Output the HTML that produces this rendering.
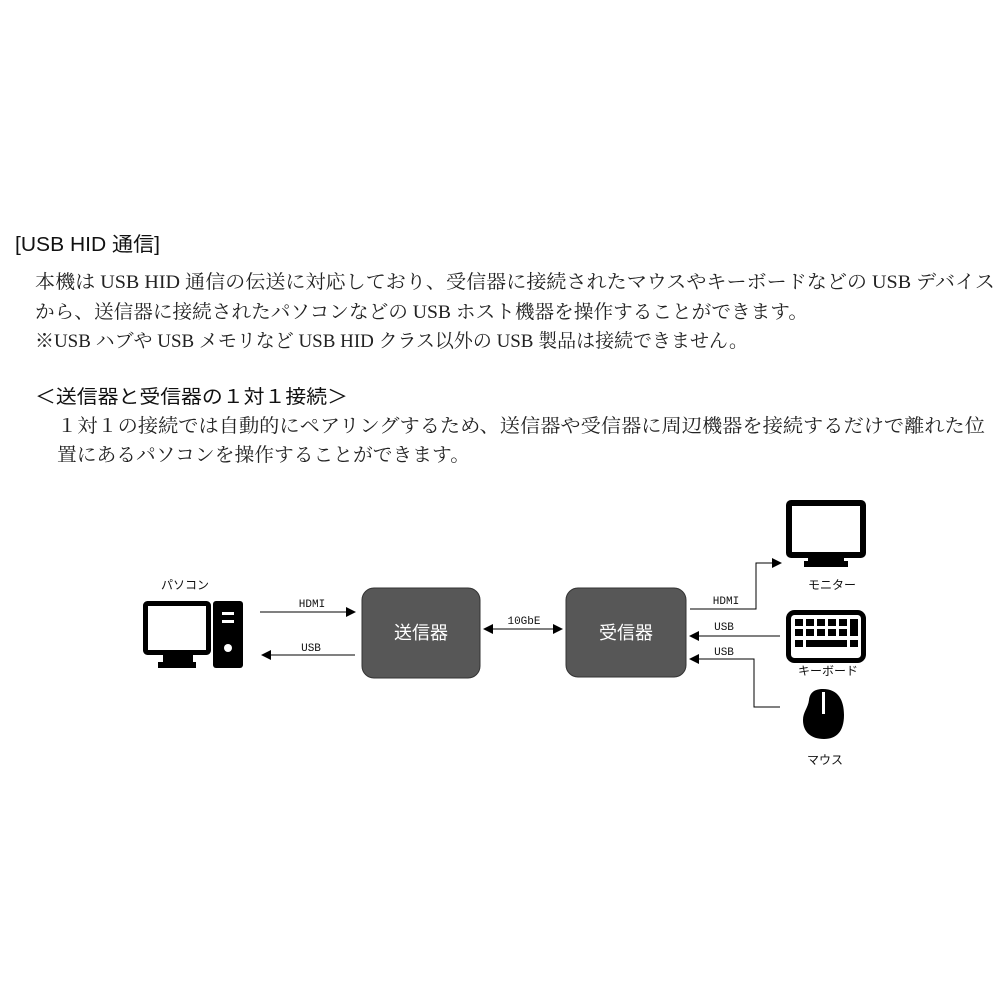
<!DOCTYPE html>
<html><head><meta charset="utf-8"><style>
html,body{margin:0;padding:0;background:#fff;}
svg{display:block;}
.s{font-family:"Liberation Serif","Noto Serif CJK SC",serif;font-size:19px;fill:#222;}
.g{font-family:"Liberation Sans","Noto Sans CJK JP",sans-serif;fill:#111;}
.m{font-family:"Liberation Mono","Noto Sans CJK JP",monospace;font-size:11px;fill:#111;}
</style></head><body>
<svg width="1000" height="1000" viewBox="0 0 1000 1000" xmlns="http://www.w3.org/2000/svg">
<defs><marker id="a" markerWidth="10" markerHeight="10" refX="9" refY="5" orient="auto" markerUnits="userSpaceOnUse"><path d="M0,0 L10,5 L0,10 z" fill="#000"/></marker>
<marker id="b" markerWidth="10" markerHeight="10" refX="1" refY="5" orient="auto" markerUnits="userSpaceOnUse"><path d="M10,0 L0,5 L10,10 z" fill="#000"/></marker></defs>
<text class="g" x="15" y="251" font-size="20" textLength="145" lengthAdjust="spacingAndGlyphs">[USB HID 通信]</text>
<text class="s" x="35" y="288" textLength="960" lengthAdjust="spacingAndGlyphs">本機は USB HID 通信の伝送に対応しており、受信器に接続されたマウスやキーボードなどの USB デバイス</text>
<text class="s" x="35" y="318" textLength="773" lengthAdjust="spacingAndGlyphs">から、送信器に接続されたパソコンなどの USB ホスト機器を操作することができます。</text>
<text class="s" x="35" y="347" textLength="713" lengthAdjust="spacingAndGlyphs">※USB ハブや USB メモリなど USB HID クラス以外の USB 製品は接続できません。</text>
<text class="g" x="35" y="403" font-size="19" textLength="313" lengthAdjust="spacingAndGlyphs">＜送信器と受信器の１対１接続＞</text>
<text class="s" x="57" y="432" textLength="928" lengthAdjust="spacingAndGlyphs">１対１の接続では自動的にペアリングするため、送信器や受信器に周辺機器を接続するだけで離れた位</text>
<text class="s" x="57" y="461" textLength="413" lengthAdjust="spacingAndGlyphs">置にあるパソコンを操作することができます。</text>

<!-- PC -->
<text class="g" x="185" y="589" font-size="12" text-anchor="middle">パソコン</text>
<rect x="145.5" y="603.5" width="63" height="49" fill="#fff" stroke="#000" stroke-width="5" rx="2"/>
<rect x="163" y="654" width="30" height="8" fill="#000"/>
<rect x="158" y="662" width="38" height="6" fill="#000"/>
<rect x="213" y="601" width="30" height="67" rx="3" fill="#000"/>
<rect x="222" y="612" width="12" height="3" fill="#fff"/>
<rect x="222" y="620" width="12" height="3" fill="#fff"/>
<circle cx="228" cy="648" r="4" fill="#fff"/>

<!-- boxes -->
<rect x="362" y="588" width="118" height="90" rx="12" fill="#575757" stroke="#333"/>
<text class="g" x="421" y="639" font-size="18" fill="#fff" style="fill:#fff" text-anchor="middle">送信器</text>
<rect x="566" y="588" width="120" height="89" rx="12" fill="#575757" stroke="#333"/>
<text class="g" x="626" y="639" font-size="18" style="fill:#fff" text-anchor="middle">受信器</text>

<!-- left arrows -->
<line x1="260" y1="612" x2="355" y2="612" stroke="#000" marker-end="url(#a)"/>
<text class="m" x="312" y="607" text-anchor="middle">HDMI</text>
<line x1="355" y1="655" x2="262" y2="655" stroke="#000" marker-end="url(#a)"/>
<text class="m" x="311" y="651" text-anchor="middle">USB</text>
<line x1="484" y1="629" x2="562" y2="629" stroke="#000" marker-start="url(#b)" marker-end="url(#a)"/>
<text class="m" x="524" y="624" text-anchor="middle">10GbE</text>

<!-- right -->
<polyline points="690,609 756,609 756,563 781,563" fill="none" stroke="#000" marker-end="url(#a)"/>
<text class="m" x="726" y="604" text-anchor="middle">HDMI</text>
<line x1="780" y1="636" x2="690" y2="636" stroke="#000" marker-end="url(#a)"/>
<text class="m" x="724" y="630" text-anchor="middle">USB</text>
<polyline points="780,707 754,707 754,659 690,659" fill="none" stroke="#000" marker-end="url(#a)"/>
<text class="m" x="724" y="655" text-anchor="middle">USB</text>

<!-- monitor -->
<rect x="789" y="503" width="74" height="52" fill="#fff" stroke="#000" stroke-width="6" rx="2"/>
<rect x="808" y="557" width="36" height="4" fill="#000"/>
<rect x="804" y="561" width="44" height="6" fill="#000"/>
<text class="g" x="832" y="589" font-size="12" text-anchor="middle">モニター</text>
<!-- keyboard -->
<rect x="788.5" y="612.5" width="75" height="48" rx="6" fill="#fff" stroke="#000" stroke-width="5"/>
<g fill="#000">
<rect x="795" y="619" width="8" height="7"/><rect x="806" y="619" width="8" height="7"/><rect x="817" y="619" width="8" height="7"/><rect x="828" y="619" width="8" height="7"/><rect x="839" y="619" width="8" height="7"/>
<rect x="795" y="629" width="8" height="7"/><rect x="806" y="629" width="8" height="7"/><rect x="817" y="629" width="8" height="7"/><rect x="828" y="629" width="8" height="7"/><rect x="839" y="629" width="8" height="7"/>
<rect x="850" y="619" width="8" height="17"/>
<rect x="795" y="640" width="8" height="7"/><rect x="806" y="640" width="41" height="7"/><rect x="850" y="640" width="8" height="7"/>
</g>
<text class="g" x="828" y="675" font-size="12" text-anchor="middle">キーボード</text>
<!-- mouse -->
<path d="M823,689 C838,689 844,700 844,715 C844,732 836,739 824,739 C811,739 803,732 803,720 C803,712 808,708 809,700 C810,692 815,689 823,689 z" fill="#000"/>
<rect x="822" y="692" width="3" height="22" fill="#fff"/>
<text class="g" x="825" y="764" font-size="12" text-anchor="middle">マウス</text>
</svg>
</body></html>
